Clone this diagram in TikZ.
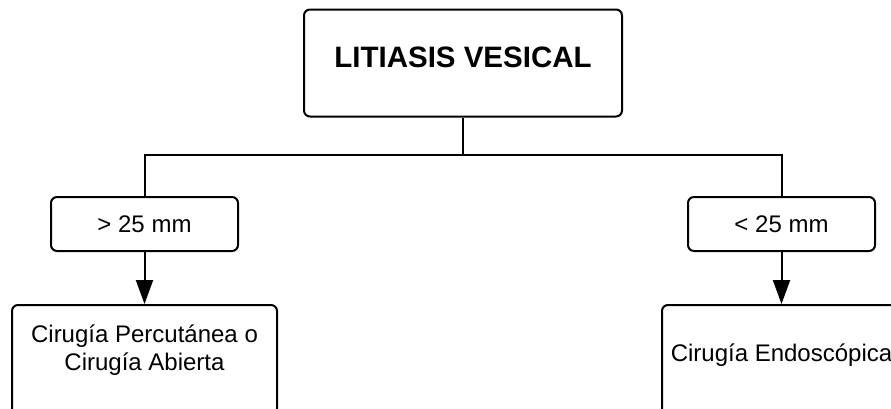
\documentclass[tikz,border=0pt]{standalone}
\usepackage{fontspec}
\setmainfont{Liberation Sans}
\usetikzlibrary{arrows.meta}
\begin{document}
\begin{tikzpicture}[x=1pt,y=-1pt,line width=2pt,
  box/.style={draw=black,rounded corners=6pt,line width=2pt,inner sep=0pt},
  lbl/.style={font=\fontsize{24}{28}\selectfont,align=center},
  ttl/.style={font=\bfseries\fontsize{29.5}{34}\selectfont},
  arr/.style={-{Triangle[length=24pt,width=17pt]}}]
\useasboundingbox (0,0) rectangle (891,408);
\clip (0,0) rectangle (891,408);
\node[box,minimum width=318pt,minimum height=107pt] (top) at (463,63) {};
\node[ttl] (toptxt) at (463,57.5) {LITIASIS VESICAL};
\node[box,lbl,minimum width=187pt,minimum height=54pt] (l) at (144.5,224) {> 25 mm};
\node[box,lbl,minimum width=187pt,minimum height=54pt] (r) at (781.5,224) {< 25 mm};
\node[box,minimum width=265pt,minimum height=115pt] (bl) at (144.5,362.5) {};
\node[lbl] (bltxt) at (144.5,350) {Cirugía Percutánea o\\Cirugía Abierta};
\node[box,minimum width=239pt,minimum height=115pt] (br) at (781.5,362.5) {};
\node[lbl] (brtxt) at (781.5,355.5) {Cirugía Endoscópica};
\coordinate (j) at (463,155);
\draw (top.south) -- (j) -| (l.north);
\draw (j) -| (r.north);
\draw[arr] (l.south) -- (bl.north);
\draw[arr] (r.south) -- (br.north);
\end{tikzpicture}
\end{document}
